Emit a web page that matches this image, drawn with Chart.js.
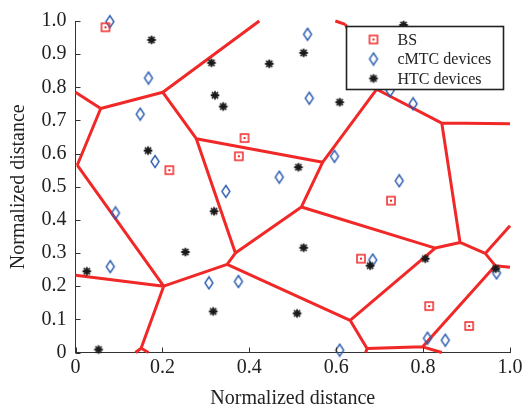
<!DOCTYPE html>
<html>
<head>
<meta charset="utf-8">
<script src="https://cdn.jsdelivr.net/npm/chart.js@4/dist/chart.umd.min.js"></script>
<style>
  html, body { margin: 0; padding: 0; background: #fff; }
  #wrap { width: 532px; height: 411px; }
</style>
</head>
<body>
<div id="wrap"><canvas id="voronoiChart" width="532" height="411"></canvas></div>
<script>
// base stations
const bsX = [0.069, 0.216, 0.389, 0.376, 0.726, 0.657, 0.814, 0.906];
const bsY = [0.981, 0.550, 0.647, 0.592, 0.458, 0.283, 0.140, 0.080];

// cMTC devices
const cmtcX = [0.079, 0.168, 0.149, 0.183, 0.469, 0.534, 0.538, 0.724, 0.777, 0.596, 0.745,
               0.092, 0.080, 0.346, 0.307, 0.375, 0.684, 0.810, 0.851, 0.608, 0.969];
const cmtcY = [0.998, 0.828, 0.719, 0.576, 0.529, 0.960, 0.767, 0.790, 0.750, 0.592, 0.518,
               0.421, 0.259, 0.486, 0.210, 0.214, 0.279, 0.043, 0.037, 0.007, 0.240];

// HTC devices
const htcX = [0.175, 0.313, 0.446, 0.321, 0.340, 0.167, 0.513, 0.755, 0.525, 0.608,
              0.319, 0.253, 0.026, 0.317, 0.053, 0.510, 0.525, 0.678, 0.805, 0.967];
const htcY = [0.943, 0.874, 0.871, 0.776, 0.742, 0.609, 0.559, 0.988, 0.904, 0.755,
              0.426, 0.303, 0.245, 0.124, 0.009, 0.118, 0.316, 0.262, 0.283, 0.253];

// voronoi cell edges: [x1, y1, x2, y2]
const cellEdges = [
  [0, 0.785, 0.058, 0.736], [0.058, 0.736, 0.201, 0.785], [0.201, 0.785, 0.423, 1.0],
  [0.201, 0.785, 0.278, 0.645], [0.278, 0.645, 0.569, 0.574], [0.058, 0.736, 0.004, 0.565],
  [0.004, 0.565, 0.203, 0.200], [0, 0.233, 0.203, 0.200], [0.203, 0.200, 0.151, 0.013],
  [0.151, 0.013, 0.138, 0], [0.151, 0.013, 0.168, 0], [0.278, 0.645, 0.368, 0.300],
  [0.368, 0.300, 0.349, 0.266], [0.349, 0.266, 0.203, 0.200], [0.368, 0.300, 0.520, 0.439],
  [0.520, 0.439, 0.569, 0.574], [0.569, 0.574, 0.693, 0.794], [0.693, 0.794, 0.621, 0.990],
  [0.621, 0.990, 0.598, 1.0], [0.693, 0.794, 0.843, 0.692], [0.843, 0.692, 1.0, 0.690],
  [0.843, 0.692, 0.885, 0.332], [0.520, 0.439, 0.828, 0.315], [0.828, 0.315, 0.885, 0.332],
  [0.885, 0.332, 0.943, 0.299], [0.943, 0.299, 1.0, 0.382], [0.943, 0.299, 0.966, 0.262],
  [0.966, 0.262, 1.0, 0.257], [0.966, 0.262, 0.799, 0.017], [0.799, 0.017, 0.843, 0],
  [0.799, 0.017, 0.671, 0.012], [0.671, 0.012, 0.668, 0], [0.671, 0.012, 0.632, 0.097],
  [0.632, 0.097, 0.349, 0.266], [0.632, 0.097, 0.828, 0.315]
];

const xTicks = [0, 0.2, 0.4, 0.6, 0.8, 1.0];
const yTicks = [0, 0.1, 0.2, 0.3, 0.4, 0.5, 0.6, 0.7, 0.8, 0.9, 1.0];

const RED = "#f02828";
const BLUE = "#2a5cb0";
const BLACK = "#1a1a1a";
const SERIF = "'Liberation Serif', 'DejaVu Serif', serif";

function zip(xs, ys) {
  return xs.map((x, i) => ({ x: x, y: ys[i] }));
}

function edgePoints(edges) {
  const pts = [];
  edges.forEach(e => {
    pts.push({ x: e[0], y: e[1] }, { x: e[2], y: e[3] }, { x: e[2], y: null });
  });
  return pts;
}

// marker images
function squareMark() {
  const c = document.createElement("canvas");
  c.width = 12; c.height = 12;
  const g = c.getContext("2d");
  g.strokeStyle = RED; g.lineWidth = 1.5;
  g.strokeRect(2, 2, 8, 8);
  g.fillStyle = RED;
  g.fillRect(5, 5, 2, 2);
  return c;
}
function diamondMark() {
  const c = document.createElement("canvas");
  c.width = 12; c.height = 15;
  const g = c.getContext("2d");
  g.strokeStyle = BLUE; g.lineWidth = 1.4;
  g.beginPath();
  g.moveTo(6, 1.5); g.lineTo(10, 7.5); g.lineTo(6, 13.5); g.lineTo(2, 7.5);
  g.closePath(); g.stroke();
  return c;
}
function starMark() {
  const c = document.createElement("canvas");
  c.width = 12; c.height = 12;
  const g = c.getContext("2d");
  g.strokeStyle = BLACK; g.lineWidth = 1.8;
  g.beginPath();
  for (let k = 0; k < 4; k++) {
    const a = k * Math.PI / 4;
    g.moveTo(6 - 4.3 * Math.cos(a), 6 - 4.3 * Math.sin(a));
    g.lineTo(6 + 4.3 * Math.cos(a), 6 + 4.3 * Math.sin(a));
  }
  g.stroke();
  return c;
}

const marks = { bs: squareMark(), cmtc: diamondMark(), htc: starMark() };

// inward ticks on left and bottom axes
const innerTicks = {
  id: "innerTicks",
  afterDraw(chart) {
    const g = chart.ctx, xs = chart.scales.x, ys = chart.scales.y, a = chart.chartArea;
    g.save();
    g.strokeStyle = "#333"; g.lineWidth = 1;
    g.beginPath();
    yTicks.forEach(v => {
      const p = Math.round(ys.getPixelForValue(v)) + 0.5;
      g.moveTo(a.left, p); g.lineTo(a.left + 5, p);
    });
    xTicks.forEach(v => {
      const p = Math.round(xs.getPixelForValue(v)) + 0.5;
      g.moveTo(p, a.bottom); g.lineTo(p, a.bottom - 5);
    });
    g.stroke();
    g.restore();
  }
};

// boxed legend inside the plot, top right
const boxLegend = {
  id: "boxLegend",
  afterDatasetsDraw(chart) {
    const g = chart.ctx, a = chart.chartArea;
    const items = [["BS", marks.bs], ["cMTC devices", marks.cmtc], ["HTC devices", marks.htc]];
    const bx = a.left + 271, by = a.top + 5.5, bw = 157, bh = 63;
    g.save();
    g.fillStyle = "#fff";
    g.fillRect(bx, by, bw, bh);
    g.strokeStyle = "#222"; g.lineWidth = 1.6;
    g.strokeRect(bx, by, bw, bh);
    g.font = "16px " + SERIF;
    g.fillStyle = "#222";
    g.textBaseline = "middle";
    items.forEach((it, i) => {
      const cy = by + 13 + i * 19.5;
      g.drawImage(it[1], bx + 27 - it[1].width / 2, cy - it[1].height / 2);
      g.fillText(it[0], bx + 51, cy + 1);
    });
    g.restore();
  }
};

new Chart(document.getElementById("voronoiChart"), {
  type: "scatter",
  data: {
    datasets: [
      {
        label: "BS",
        data: zip(bsX, bsY),
        pointStyle: marks.bs,
        clip: false,
        order: 1
      },
      {
        label: "cMTC devices",
        data: zip(cmtcX, cmtcY),
        pointStyle: marks.cmtc,
        clip: false,
        order: 2
      },
      {
        label: "HTC devices",
        data: zip(htcX, htcY),
        pointStyle: marks.htc,
        clip: false,
        order: 0
      },
      {
        label: "Cells",
        data: edgePoints(cellEdges),
        showLine: true,
        spanGaps: false,
        borderColor: RED,
        borderWidth: 3,
        pointRadius: 0,
        pointHoverRadius: 0,
        clip: false,
        order: 10
      }
    ]
  },
  options: {
    responsive: false,
    animation: false,
    events: [],
    layout: { padding: { top: 12, right: 22, left: 0, bottom: 0 } },
    plugins: {
      legend: { display: false },
      tooltip: { enabled: false }
    },
    scales: {
      x: {
        type: "linear",
        min: 0,
        max: 1,
        afterFit(scale) { scale.height = 58.5; },
        afterBuildTicks(scale) { scale.ticks = xTicks.map(v => ({ value: v })); },
        grid: { display: true, drawOnChartArea: false, drawTicks: false },
        border: { display: true, color: "#333", width: 1 },
        ticks: {
          padding: 3,
          color: "#222",
          font: { family: SERIF, size: 20 },
          maxRotation: 0,
          callback: v => (v === 0 ? "0" : v.toFixed(1))
        },
        title: {
          display: true,
          text: "Normalized distance",
          color: "#222",
          font: { family: SERIF, size: 20 },
          padding: { top: 0, bottom: 0 }
        }
      },
      y: {
        type: "linear",
        min: 0,
        max: 1,
        afterFit(scale) { scale.width = 75.5; },
        afterBuildTicks(scale) { scale.ticks = yTicks.map(v => ({ value: v })); },
        grid: { display: true, drawOnChartArea: false, drawTicks: false },
        border: { display: true, color: "#333", width: 1 },
        ticks: {
          padding: 9,
          color: "#222",
          font: { family: SERIF, size: 20 },
          callback: v => (v === 0 ? "0" : v.toFixed(1))
        },
        title: {
          display: true,
          text: "Normalized distance",
          color: "#222",
          font: { family: SERIF, size: 20 },
          padding: { top: 7, bottom: 0 }
        }
      }
    }
  },
  plugins: [innerTicks, boxLegend]
});
</script>
</body>
</html>
